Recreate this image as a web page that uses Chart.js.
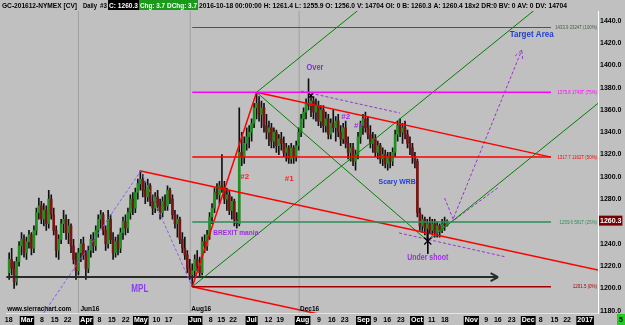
<!DOCTYPE html>
<html>
<head>
<meta charset="utf-8">
<script src="https://cdn.jsdelivr.net/npm/chart.js@4.4.0/dist/chart.umd.min.js"></script>
<style>
html, body { margin: 0; padding: 0; background: #c0c0c0; }
#wrap { position: relative; width: 625px; height: 325px; }
</style>
</head>
<body>
<div id="wrap"><canvas id="gcChart"></canvas></div>
<script>
// GC-201612 daily bars, one entry per trading day (index 0 = leftmost bar)
const open = [
1214,1226,1218,1206,1224,1238,1244,1232,1242,1248,
1236,1252,1268,1274,1262,1270,1258,1280,1266,1252,
1234,1244,1258,1262,1250,1256,1238,1226,1216,1232,
1240,1230,1218,1234,1244,1238,1252,1262,1266,1252,
1240,1262,1244,1232,1242,1236,1250,1260,1254,1268,
1280,1272,1286,1294,1298,1288,1282,1292,1278,1272,
1282,1274,1268,1278,1274,1288,1280,1266,1258,1262,
1244,1236,1230,1218,1212,1216,1226,1220,1214,1242,
1238,1248,1264,1272,1286,1284,1292,1290,1280,1284,
1270,1278,1262,1258,1322,1318,1330,1336,1340,1348,
1362,1366,1356,1362,1346,1340,1344,1332,1340,1328,
1334,1330,1322,1326,1316,1326,1318,1328,1340,1352,
1358,1366,1364,1368,1358,1364,1350,1360,1346,1352,
1338,1348,1344,1350,1340,1334,1344,1330,1322,1326,
1314,1320,1336,1346,1352,1344,1338,1330,1334,1322,
1328,1316,1320,1312,1318,1314,1322,1338,1346,1340,
1344,1338,1330,1326,1318,1314,1268,1256,1262,1254,
1258,1252,1258,1250,1256,1252,1258,1256.0];
const high = [
1232,1236,1224,1228,1242,1250,1248,1246,1252,1250,
1256,1272,1281,1278,1276,1274,1288,1284,1272,1256,
1248,1262,1270,1266,1262,1258,1244,1232,1236,1244,
1246,1234,1238,1248,1250,1256,1266,1270,1268,1256,
1270,1266,1250,1246,1248,1254,1264,1266,1272,1284,
1286,1290,1298,1305.5,1302,1296,1298,1294,1284,1286,
1288,1280,1282,1284,1292,1290,1284,1270,1266,1264,
1250,1246,1234,1226,1222,1230,1234,1228,1246,1248,
1252,1268,1276,1290,1294,1296,1320,1296,1290,1288,
1282,1280,1268,1362,1340,1336,1344,1346,1352,1366,
1375.8,1372,1368,1366,1356,1350,1348,1344,1342,1338,
1340,1336,1330,1328,1330,1328,1332,1344,1356,1362,
1370,1388,1374,1372,1370,1368,1364,1364,1358,1356,
1352,1360,1354,1356,1346,1348,1350,1336,1330,1330,
1324,1340,1350,1356,1358,1354,1346,1340,1338,1332,
1330,1326,1324,1322,1322,1326,1342,1350,1352,1348,
1350,1342,1336,1330,1322,1316,1272,1266,1264,1262,
1264,1262,1262,1260,1258,1262,1264,1261.4];
const low = [
1208,1212,1200,1203,1220,1230,1228,1226,1236,1230,
1232,1248,1262,1258,1256,1252,1254,1262,1248,1228,
1226,1240,1250,1244,1240,1232,1222,1208,1212,1224,
1226,1208,1214,1228,1232,1234,1246,1254,1248,1234,
1236,1240,1226,1228,1230,1232,1244,1248,1250,1262,
1266,1268,1280,1288,1282,1276,1278,1274,1266,1268,
1270,1262,1264,1270,1270,1276,1262,1254,1246,1240,
1232,1226,1214,1208,1201.5,1210,1216,1210,1212,1232,
1234,1244,1258,1268,1280,1276,1286,1276,1270,1266,
1262,1256,1254,1256,1310,1312,1324,1326,1332,1344,
1352,1350,1344,1340,1334,1328,1326,1326,1322,1320,
1324,1318,1314,1312,1312,1312,1314,1324,1336,1344,
1352,1360,1354,1352,1350,1346,1344,1340,1340,1334,
1334,1340,1332,1336,1328,1330,1326,1316,1314,1310,
1306,1316,1330,1338,1340,1334,1326,1322,1318,1316,
1312,1310,1308,1306,1308,1310,1318,1332,1336,1330,
1334,1326,1320,1312,1308,1264,1252,1250,1248,1242.5,
1250,1248,1246,1246,1246,1250,1252,1255.9];
const close = [
1226,1218,1206,1224,1238,1244,1232,1242,1248,1236,
1252,1268,1274,1262,1270,1258,1280,1266,1252,1234,
1244,1258,1262,1250,1256,1238,1226,1216,1232,1240,
1230,1218,1234,1244,1238,1252,1262,1266,1252,1240,
1262,1244,1232,1242,1236,1250,1260,1254,1268,1280,
1272,1286,1294,1298,1288,1282,1292,1278,1272,1282,
1274,1268,1278,1274,1288,1280,1266,1258,1262,1244,
1236,1230,1218,1212,1216,1226,1220,1214,1242,1238,
1248,1264,1272,1286,1284,1292,1290,1280,1284,1270,
1278,1262,1258,1322,1318,1330,1336,1340,1348,1362,
1366,1356,1362,1346,1340,1344,1332,1340,1328,1334,
1330,1322,1326,1316,1326,1318,1328,1340,1352,1358,
1366,1364,1368,1358,1364,1350,1360,1346,1352,1338,
1348,1344,1350,1340,1334,1344,1330,1322,1326,1314,
1320,1336,1346,1352,1344,1338,1330,1334,1322,1328,
1316,1320,1312,1318,1314,1322,1338,1346,1340,1344,
1338,1330,1326,1318,1314,1268,1256,1262,1254,1258,
1252,1258,1250,1256,1252,1258,1256.6,1260.3];

const lastPrice = 1260.3;

// time axis labels (bar index positions)
const tickPos = [-0.2,7.2,13.2,18.4,23.6,31.2,36.5,41.5,47.1,53.2,59.5,64.5,75.2,81.5,85.7,90.5,98,104.8,109.5,
  118.6,125.2,130.4,135.6,143.2,147.9,152.8,158.3,164.8,170.8,176.1,186.8,192.8,197.5,203.1,209.8,214.8,220.4,225.5,232.8];
const tickText = ['18','Mar','8','15','22','Apr','8','15','22','May','10','17','Jun','8','15','22','Jul','12','19',
  'Aug','9','16','23','Sep','9','16','23','Oct','11','18','Nov','9','16','23','Dec','8','15','22','2017'];

// price axis labels
const priceTicks = [1180,1200,1220,1240,1280,1300,1320,1340,1360,1380,1400,1420,1440];

// fib retracement levels drawn from the June low
const fibLevels = [1433.9, 1375.8, 1317.7, 1259.6, 1201.5];
const fibText = ['1433.9 2324T (100%)', '1375.8 1743T (75%)', '1317.7 1162T (50%)', '1259.6 581T (25%)', '1201.5 (0%)'];
const fibColors = ['#3f5f3f', '#ff00ff', '#ff0000', '#2e8b57', '#a00000'];
const fibStart = 74, fibEnd = 219;

// drawn trend lines: [x1, price1, x2, price2]
const redLines = [
  [53.2, 1305.3, 238, 1216.5],
  [100, 1375.8, 219, 1317.7],
  [74, 1201.5, 100, 1375.8],
  [74, 1201.5, 131, 1174.2]
];
const greenLines = [
  [74, 1201.5, 215, 1454.3],
  [100, 1375.8, 145, 1456.5],
  [100, 1375.8, 169.2, 1242.5],
  [169.2, 1242.5, 238, 1365.9]
];
const purpleDashed = [
  [118, 1376.9, 158, 1357.2],
  [157.6, 1249.7, 200.8, 1228.2],
  [168.8, 1243.4, 198, 1291.0],
  [179.6, 1263.1, 207.2, 1413.7],
  [204.5, 1408.4, 207.2, 1413.7],
  [207.5, 1405.8, 207.2, 1413.7],
  [176, 1281.0, 179.6, 1261.3]
];
const mplLines = [
  [14, 1178, 53.2, 1305.3],
  [53.2, 1305.3, 74, 1201.5]
];
const arrowLines = [
  [-1.2, 1210.2, 197.6, 1210.2],
  [194.6, 1213.8, 197.6, 1210.2],
  [194.6, 1206.6, 197.6, 1210.2]
];
const separators = [28, 73.2, 117.2];

const X_MIN = -1.2, X_MAX = 238;
const Y_MIN = 1177.95, Y_MAX = 1448.7;

const FONT = "'Liberation Sans', Arial, sans-serif";

const notes = [
  { text: 'Target Area', x: 211.2, y: 1427.2, color: '#1f3fd0', size: 9, w: 44 },
  { text: 'Over', x: 123.6, y: 1397.6, color: '#8a2be2', size: 9, w: 17 },
  { text: '#2', x: 95.2, y: 1299.8, color: '#ff2020', size: 8 },
  { text: '#1', x: 113.2, y: 1298.1, color: '#ff2020', size: 8 },
  { text: '#2', x: 136, y: 1353.7, color: '#9a30e0', size: 8 },
  { text: '#1', x: 141.2, y: 1345.6, color: '#9a30e0', size: 8 },
  { text: 'Scary WRB', x: 156.8, y: 1295.4, color: '#1f3fe0', size: 8, w: 37 },
  { text: 'Under shoot', x: 169.2, y: 1228.1, color: '#9a30e0', size: 9, w: 41 },
  { text: 'BREXIT mania', x: 91.6, y: 1249.7, color: '#9a30e0', size: 8, w: 45 },
  { text: 'MPL', x: 52.8, y: 1199.5, color: '#8a3cf0', size: 10, w: 17 },
  { text: 'www.sierrachart.com', x: -0.8, y: 1181.5, color: '#000', size: 8, align: 'left', w: 64 },
  { text: 'Jun16', x: 28.8, y: 1181.5, color: '#000', size: 8, align: 'left', w: 19 },
  { text: 'Aug16', x: 73.6, y: 1181.5, color: '#000', size: 8, align: 'left', w: 20 },
  { text: 'Dec16', x: 117.6, y: 1181.5, color: '#000', size: 8, align: 'left', w: 19 }
];

const header = [
  [2, 'GC-201612-NYMEX [CV]', null, '#000', 75],
  [83, 'Daily', null, '#000', 14],
  [100, '#3', null, '#000', 7],
  [109, 'C: 1260.3', '#000', '#fff', 29],
  [140, 'Chg: 3.7', '#1a9a1a', '#fff', 25],
  [167, 'DChg: 3.7', '#1a9a1a', '#fff', 30],
  [199, '2016-10-18 00:00:00 H: 1261.4 L: 1255.9 O: 1256.0 V: 14704 OI: 0 B: 1260.3 A: 1260.4 18x2 DR:0 BV: 0 AV: 0 DV: 14704', null, '#000', 368]
];

const isMonth = t => /^[A-Z]|^2017$/.test(t);

function seg(p, color, width, dash, order) {
    return {
        type: 'line',
        data: [{ x: p[0], y: p[1] }, { x: p[2], y: p[3] }],
        borderColor: color,
        borderWidth: width,
        borderDash: dash || [],
        pointRadius: 0,
        fill: false,
        order: order === undefined ? 1 : order
    };
}

const dayIdx = open.map((v, i) => i);

const datasets = [];
separators.forEach(s => datasets.push(seg([s, Y_MIN, s, Y_MAX], '#a0a0a0', 1, null, 9)));
datasets.push({
    type: 'bar',
    data: dayIdx.map(i => ({ x: i, y: [low[i], high[i]] })),
    backgroundColor: '#111',
    barThickness: 1,
    grouped: false,
    order: 6
});
datasets.push({
    type: 'bar',
    data: dayIdx.map(i => ({ x: i, y: [open[i], close[i]] })),
    backgroundColor: ctx => close[ctx.dataIndex] >= open[ctx.dataIndex] ? '#1f8f1f' : '#7a1515',
    borderWidth: 0,
    barThickness: 2,
    grouped: false,
    order: 5
});
fibLevels.forEach((lv, k) => datasets.push(seg([fibStart, lv, fibEnd, lv], fibColors[k], k === 0 ? 1 : 1.5)));
redLines.forEach(l => datasets.push(seg(l, '#ff0000', 1.5)));
greenLines.forEach(l => datasets.push(seg(l, '#008000', 1)));
purpleDashed.forEach(l => datasets.push(seg(l, '#9932cc', 1, [3, 2])));
mplLines.forEach(l => datasets.push(seg(l, '#8a5cf0', 1, [3, 2])));
arrowLines.forEach(l => datasets.push(seg(l, '#2a2a2a', 2)));
datasets.push(seg([169.2, 1252, 169.2, 1231], '#000', 1, null, 0));
datasets.push({
    type: 'line',
    data: [{ x: 169.2, y: 1242.5 }, { x: 122, y: 1373 }],
    showLine: false,
    pointStyle: 'crossRot',
    pointRadius: [5, 3],
    borderColor: '#000',
    borderWidth: 1.2,
    order: 0
});

const textLayer = {
    id: 'textLayer',
    afterDatasetsDraw(chart) {
        const { ctx, scales: { x, y } } = chart;
        ctx.save();
        ctx.textBaseline = 'middle';
        notes.forEach(n => {
            ctx.font = 'bold ' + n.size + 'px ' + FONT;
            ctx.fillStyle = n.color;
            ctx.textAlign = n.align || 'center';
            const px = x.getPixelForValue(n.x), py = y.getPixelForValue(n.y);
            if (n.w) ctx.fillText(n.text, px, py, n.w);
            else ctx.fillText(n.text, px, py);
        });
        ctx.font = '6px ' + FONT;
        ctx.textAlign = 'right';
        fibLevels.forEach((lv, k) => {
            ctx.fillStyle = fibColors[k];
            ctx.fillText(fibText[k], x.getPixelForValue(237.6), y.getPixelForValue(lv), fibText[k].length * 2.2);
        });
        ctx.restore();
    },
    afterDraw(chart) {
        const ctx = chart.ctx;
        ctx.save();
        ctx.font = 'bold 8px ' + FONT;
        ctx.textBaseline = 'middle';
        ctx.textAlign = 'left';
        header.forEach(h => {
            if (h[2]) {
                ctx.fillStyle = h[2];
                ctx.fillRect(h[0] - 1, 0, h[4] + 2, 10);
            }
            ctx.fillStyle = h[3];
            ctx.fillText(h[1], h[0], 5.5, h[4]);
        });
        ctx.fillStyle = '#22cc22';
        ctx.fillRect(617, 314, 8, 11);
        ctx.fillStyle = '#000';
        ctx.textAlign = 'center';
        ctx.font = 'bold 7px ' + FONT;
        ctx.fillText('5', 621, 320);
        ctx.restore();
    }
};

document.addEventListener('DOMContentLoaded', function() {
    const ctx = document.getElementById('gcChart').getContext('2d');
    new Chart(ctx, {
        type: 'bar',
        data: { datasets: datasets },
        options: {
            responsive: true,
            maintainAspectRatio: false,
            animation: false,
            layout: { padding: { top: 11, left: 0, right: 0, bottom: 0 } },
            plugins: { legend: { display: false }, tooltip: { enabled: false } },
            scales: {
                x: {
                    type: 'linear',
                    min: X_MIN,
                    max: X_MAX,
                    offset: false,
                    grid: { display: false, drawTicks: false, offset: false },
                    border: { color: '#e6e6e6' },
                    afterBuildTicks: s => { s.ticks = tickPos.map(v => ({ value: v })); },
                    afterFit: s => { s.height = 12; s.paddingLeft = 0; s.paddingRight = 0; },
                    ticks: {
                        autoSkip: false,
                        maxRotation: 0,
                        padding: 4,
                        font: { family: FONT, size: 7, weight: 'bold', lineHeight: 1 },
                        callback: (v, i) => tickText[i],
                        color: c => isMonth(tickText[c.index]) ? '#fff' : '#000',
                        showLabelBackdrop: c => isMonth(tickText[c.index]),
                        backdropColor: '#000',
                        backdropPadding: { top: 1, bottom: 1, left: 1, right: 1 }
                    }
                },
                y: {
                    position: 'right',
                    min: Y_MIN,
                    max: Y_MAX,
                    grid: { display: false, drawTicks: false },
                    border: { color: '#ffffff' },
                    afterBuildTicks: s => {
                        s.ticks = priceTicks.concat([lastPrice]).sort((a, b) => a - b).map(v => ({ value: v }));
                    },
                    afterFit: s => { s.width = 27; s.paddingTop = 0; s.paddingBottom = 0; },
                    ticks: {
                        padding: 2,
                        font: { family: FONT, size: 7, weight: 'bold', lineHeight: 1 },
                        callback: v => v.toFixed(1),
                        color: c => c.tick && c.tick.value === lastPrice ? '#fff' : '#000',
                        showLabelBackdrop: c => !!(c.tick && c.tick.value === lastPrice),
                        backdropColor: '#7a0000',
                        backdropPadding: { top: 2, bottom: 1, left: 1, right: 1 }
                    }
                }
            }
        },
        plugins: [textLayer]
    });
});
</script>
</body>
</html>
